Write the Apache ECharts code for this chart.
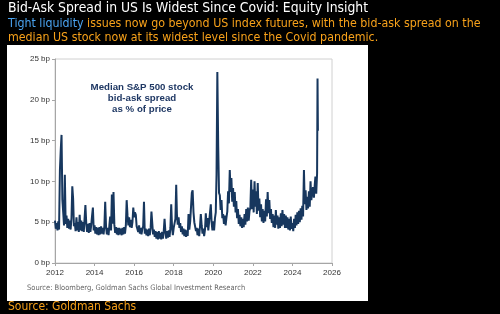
<!DOCTYPE html>
<html>
<head>
<meta charset="utf-8">
<script src="https://cdn.jsdelivr.net/npm/echarts@6/dist/echarts.min.js"></script>
<style>
html,body{margin:0;padding:0;background:#000;}
#c{width:500px;height:314px;}
</style>
</head>
<body>
<div id="c"></div>
<script>
// Semi-monthly readings (1st and 16th of each month), bp
const v2012 = [5.2, 4.2, 4.9, 4.0, 5.1, 4.1, 11.4, 13.8, 15.7, 7.8, 6.2, 4.6, 10.8, 4.8, 5.8, 4.3, 5.4, 4.2, 5.2, 4.1, 5.5, 9.4, 7.9, 4.5];
const v2013 = [4.9, 3.9, 5.6, 4.0, 5.0, 3.8, 5.9, 4.0, 5.2, 3.9, 5.0, 3.8, 5.5, 7.1, 4.8, 3.8, 4.8, 3.7, 4.9, 3.8, 4.7, 5.8, 6.8, 4.0];
const v2014 = [4.6, 3.6, 4.4, 3.5, 4.3, 3.4, 4.4, 3.5, 4.5, 3.6, 4.3, 3.5, 4.5, 7.5, 4.4, 3.5, 4.3, 3.4, 4.6, 5.7, 4.0, 8.4, 4.8, 8.7];
const v2015 = [4.7, 3.7, 4.4, 3.5, 4.3, 3.4, 4.3, 3.5, 4.2, 3.4, 4.3, 3.5, 4.4, 3.6, 4.6, 7.7, 5.8, 4.6, 5.6, 4.4, 5.3, 4.3, 5.0, 6.8];
const v2016 = [5.6, 6.2, 5.9, 4.5, 4.7, 3.8, 4.6, 3.6, 4.3, 3.5, 4.2, 4.5, 7.5, 3.6, 4.2, 3.4, 4.1, 3.3, 4.2, 3.4, 4.3, 6.3, 4.9, 3.5];
const v2017 = [4.1, 3.2, 3.9, 3.0, 3.8, 2.9, 3.9, 3.0, 3.7, 2.9, 3.8, 3.0, 3.9, 5.4, 3.8, 3.0, 3.9, 3.1, 4.0, 3.2, 4.3, 7.2, 4.4, 3.4];
const v2018 = [4.3, 4.4, 5.4, 9.6, 6.0, 4.7, 5.6, 4.3, 4.9, 3.8, 4.5, 3.5, 4.2, 3.3, 4.1, 3.2, 4.0, 3.3, 6.0, 4.1, 5.1, 5.0, 8.6, 8.9];
const v2019 = [6.2, 5.0, 4.9, 3.9, 4.3, 3.4, 4.2, 3.3, 4.5, 6.0, 4.6, 3.6, 4.2, 3.3, 4.1, 6.1, 4.4, 5.5, 4.0, 4.2, 4.1, 7.2, 5.0, 4.0];
const v2020 = [5.1, 4.0, 5.5, 6.2, 10.8, 23.4, 14.3, 8.6, 8.3, 6.5, 7.7, 5.5, 6.0, 4.8, 5.8, 4.6, 5.6, 6.3, 8.8, 7.3, 11.4, 8.7, 10.4, 7.5];
const v2021 = [9.2, 6.9, 8.7, 6.2, 7.6, 5.5, 6.6, 4.8, 5.9, 4.5, 5.6, 4.3, 5.4, 4.4, 6.0, 4.7, 6.6, 5.1, 6.8, 5.2, 6.4, 6.8, 10.2, 6.6];
const v2022 = [9.0, 6.2, 10.0, 6.9, 8.8, 6.0, 9.8, 6.4, 7.9, 5.6, 7.2, 5.1, 6.6, 4.9, 6.4, 5.1, 7.8, 5.7, 8.7, 6.1, 7.7, 5.4, 6.6, 4.9];
const v2023 = [6.0, 4.4, 5.8, 4.3, 6.5, 4.7, 5.8, 4.2, 5.6, 4.3, 6.1, 4.5, 6.5, 4.7, 6.0, 4.3, 5.8, 4.3, 5.6, 4.1, 5.4, 4.0, 5.7, 4.2];
const v2024 = [4.9, 3.9, 5.4, 4.3, 5.9, 4.6, 6.2, 4.8, 6.4, 5.0, 6.7, 5.3, 7.0, 5.7, 11.4, 7.2, 8.9, 6.5, 8.1, 6.7, 8.8, 6.9, 10.0, 7.7];
const v2025 = [8.8, 9.3, 8.0, 9.5, 10.6, 8.5];
const tailDates = ['2025-04-01', '2025-04-09', '2025-04-16'];
const tailValues = [11.0, 22.6, 16.2];

const years = [2012, 2013, 2014, 2015, 2016, 2017, 2018, 2019, 2020, 2021, 2022, 2023, 2024, 2025];
const yearValues = [v2012, v2013, v2014, v2015, v2016, v2017, v2018, v2019, v2020, v2021, v2022, v2023, v2024, v2025];
const xTicks = [2012, 2014, 2016, 2018, 2020, 2022, 2024, 2026];
const yTicks = [0, 5, 10, 15, 20, 25];

const titleText = 'Bid-Ask Spread in US Is Widest Since Covid: Equity Insight';
const subBlue = 'Tight liquidity';
const subLine1 = 'issues now go beyond US index futures, with the bid-ask spread on the';
const subLine2 = 'median US stock now at its widest level since the Covid pandemic.';
const noteLines = ['Median S&P 500 stock', 'bid-ask spread', 'as % of price'];
const innerSource = 'Source: Bloomberg, Goldman Sachs Global Investment Research';
const outerSource = 'Source: Goldman Sachs';

function decYear(y, m, d) {
  const start = Date.UTC(y, 0, 1), end = Date.UTC(y + 1, 0, 1);
  return y + (Date.UTC(y, m - 1, d) - start) / (end - start);
}
const data = [];
years.forEach((y, yi) => {
  yearValues[yi].forEach((v, i) => {
    const m = Math.floor(i / 2) + 1, d = (i % 2) ? 16 : 1;
    data.push([decYear(y, m, d), v]);
  });
});
tailDates.forEach((s, i) => {
  const p = s.split('-').map(Number);
  data.push([decYear(p[0], p[1], p[2]), tailValues[i]]);
});

const chart = echarts.init(document.getElementById('c'), null, {renderer: 'canvas'});
const BB = '"DejaVu Sans Condensed", "DejaVu Sans", sans-serif';
const AR = '"Liberation Sans", Arial, sans-serif';
chart.setOption({
  backgroundColor: '#000',
  animation: false,
  grid: {left: 55, right: 168, top: 59, bottom: 51, show: true, borderColor: '#d0d0d0', borderWidth: 1, backgroundColor: '#fff'},
  xAxis: {
    type: 'value', min: xTicks[0], max: xTicks[xTicks.length - 1], interval: 2,
    axisLine: {lineStyle: {color: '#a6a6a6'}},
    axisTick: {show: true, length: 3, lineStyle: {color: '#a6a6a6'}},
    axisLabel: {color: '#333', fontSize: 8, fontFamily: AR, margin: 6, formatter: v => String(v)},
    splitLine: {show: false}
  },
  yAxis: {
    type: 'value', min: yTicks[0], max: yTicks[yTicks.length - 1], interval: 5,
    axisLine: {show: true, lineStyle: {color: '#a6a6a6'}},
    axisTick: {show: true, length: 3, lineStyle: {color: '#a6a6a6'}},
    axisLabel: {color: '#333', fontSize: 8, fontFamily: AR, margin: 5, formatter: v => v + ' bp'},
    splitLine: {show: false}
  },
  series: [{
    type: 'line', data: data, showSymbol: false, symbol: 'none',
    lineStyle: {color: '#17375e', width: 2},
    z: 3
  }],
  graphic: [
    {type: 'rect', z: -10, shape: {x: 7, y: 45, width: 361, height: 256}, style: {fill: '#fff'}},
    {type: 'text', left: 8, top: 1, style: {text: titleText, fill: '#fff', font: '13.8px ' + BB}},
    {type: 'text', left: 8, top: 17, style: {
      text: '{b|' + subBlue + '} {o|' + subLine1 + '}\n{o|' + subLine2 + '}',
      font: '12.3px ' + BB, lineHeight: 14,
      rich: {b: {fill: '#4aa3f0', font: '12.3px ' + BB, lineHeight: 14}, o: {fill: '#f7a11a', font: '12.3px ' + BB, lineHeight: 14}}
    }},
    {type: 'text', x: 142, y: 82, style: {
      text: noteLines.join('\n'), fill: '#1f3864', font: 'bold 9.7px ' + AR, align: 'center', lineHeight: 11
    }},
    {type: 'text', left: 27, top: 284, style: {text: innerSource, fill: '#666', font: '7.5px ' + BB}},
    {type: 'text', left: 8, top: 301, style: {text: outerSource, fill: '#f7a11a', font: '12px ' + BB}}
  ]
});
</script>
</body>
</html>
